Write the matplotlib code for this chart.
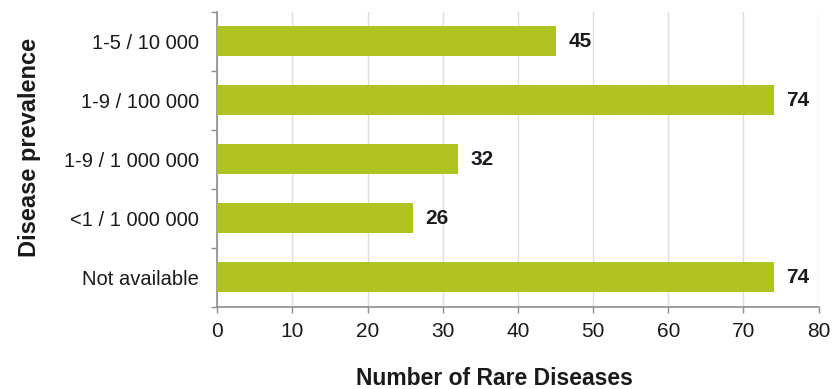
import matplotlib
matplotlib.use('Agg')
import matplotlib.pyplot as plt
import numpy as np

# Data
categories = ['1-5 / 10 000', '1-9 / 100 000', '1-9 / 1 000 000',
              '<1 / 1 000 000', 'Not available']
counts = [45, 74, 32, 26, 74]
x_ticks = [0, 10, 20, 30, 40, 50, 60, 70, 80]

plt.rcParams['font.family'] = ['Liberation Sans', 'DejaVu Sans']

bar_color = '#afc323'
axis_color = '#8e8e8e'
grid_color = '#dcdce4'
text_color = '#1a1a1a'

fig = plt.figure(figsize=(8.32, 3.89), dpi=100)
ax = fig.add_axes([0.261, 0.212, 0.723, 0.758])

y = np.arange(len(categories))
ax.barh(y, counts, height=0.51, color=bar_color, zorder=3)

for yi, v in zip(y, counts):
    ax.text(v + 1.7, yi, str(v), va='center', ha='left',
            fontsize=15, fontweight='bold', color=text_color)

ax.set_xlim(0, 80)
ax.set_ylim(len(categories) - 0.5, -0.5)
ax.set_xticks(x_ticks)
ax.set_xticklabels([str(t) for t in x_ticks])
ax.set_yticks(y)
ax.set_yticklabels(categories)
ax.set_yticks(np.arange(-0.5, len(categories), 1), minor=True)

ax.grid(axis='x', color=grid_color, linewidth=1, zorder=0)
for s in ['top', 'right']:
    ax.spines[s].set_visible(False)
for s in ['left', 'bottom']:
    ax.spines[s].set_color(axis_color)
    ax.spines[s].set_linewidth(1.2)

ax.tick_params(axis='y', which='major', length=0, pad=13, labelsize=14.5,
               labelcolor=text_color)
ax.tick_params(axis='y', which='minor', length=4, color=axis_color, width=1)
ax.tick_params(axis='x', which='major', length=4, color=axis_color, width=1,
               pad=7, labelsize=15, labelcolor=text_color)

fig.text(0.594, 0.028, 'Number of Rare Diseases', ha='center', va='center',
         fontsize=16.5, fontweight='bold', color=text_color)
fig.text(0.036, 0.621, 'Disease prevalence', ha='center', va='center',
         rotation=90, fontsize=17, fontweight='bold', color=text_color)

fig.savefig('out.png', dpi=100)
